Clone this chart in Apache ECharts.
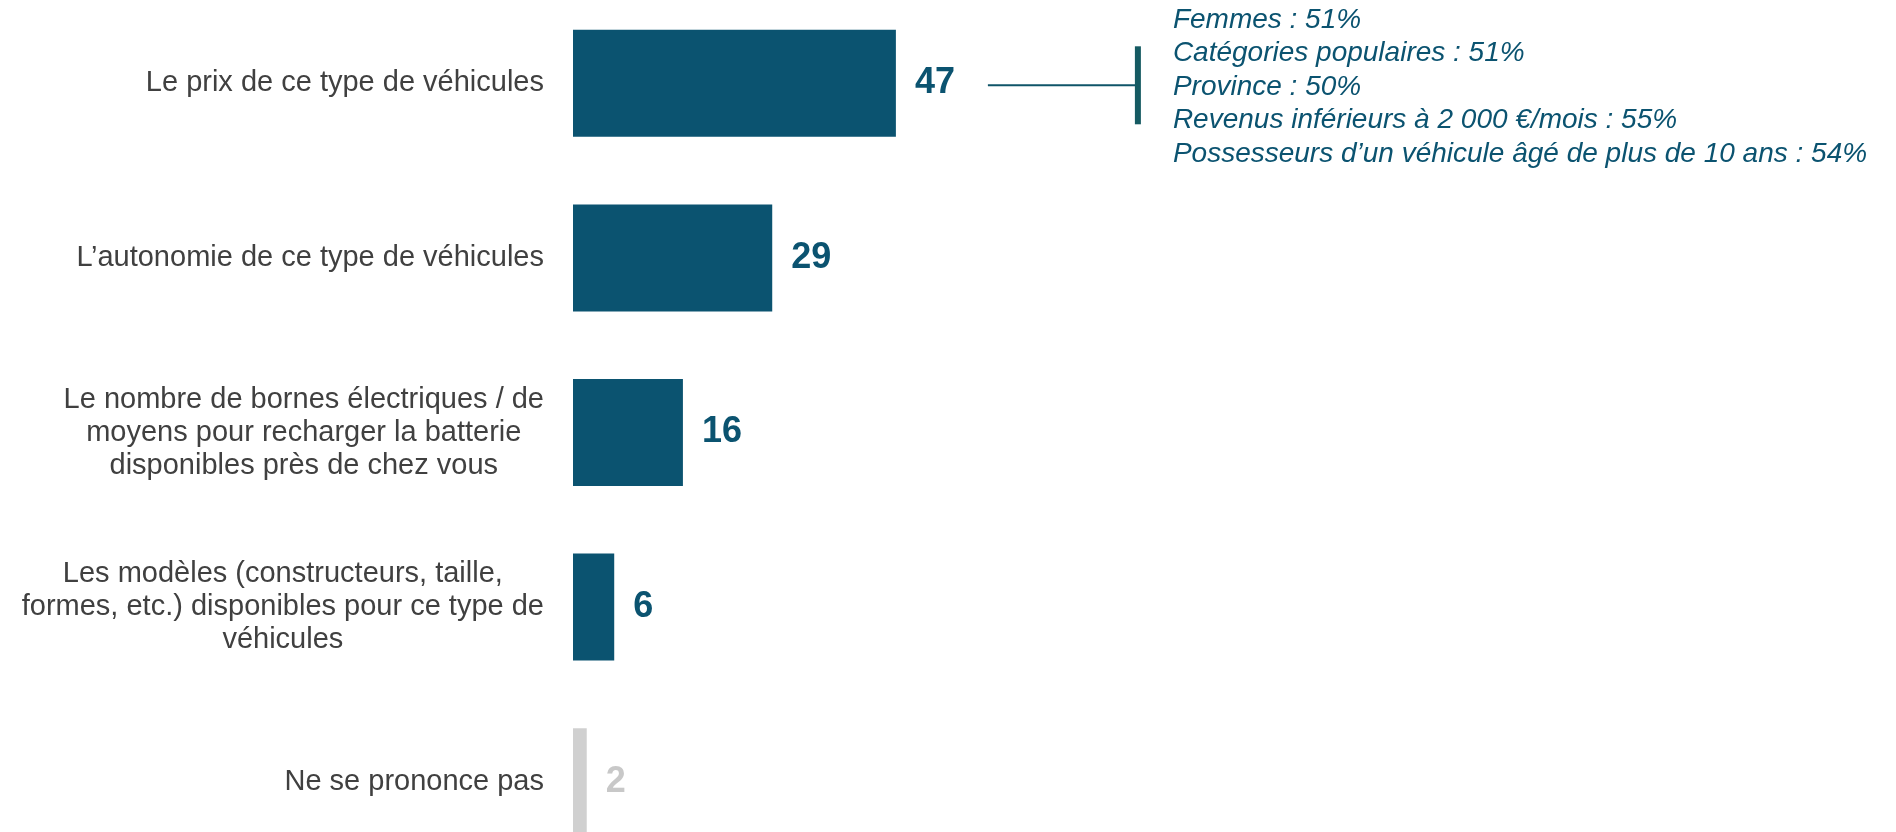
<!DOCTYPE html>
<html><head><meta charset="utf-8">
<script src="https://cdn.jsdelivr.net/npm/echarts@6/dist/echarts.min.js"></script>
<style>html,body{margin:0;padding:0;background:#fff}#c{width:1896px;height:832px}</style>
</head><body><div id="c"></div>
<script>
const categories = [
  "Le prix de ce type de véhicules",
  "L’autonomie de ce type de véhicules",
  "Le nombre de bornes électriques / de\nmoyens pour recharger la batterie\ndisponibles près de chez vous",
  "Les modèles (constructeurs, taille,\nformes, etc.) disponibles pour ce type de\nvéhicules",
  "Ne se prononce pas"
];
const values = [47, 29, 16, 6, 2];
const annotationLines = [
  "Femmes : 51%",
  "Catégories populaires : 51%",
  "Province : 50%",
  "Revenus inférieurs à 2 000 €/mois : 55%",
  "Possesseurs d’un véhicule âgé de plus de 10 ans : 54%"
];

const FONT = "'Liberation Sans', Arial, sans-serif";
const MAIN = '#0b5370';
const GRAY = '#d0d0d0';
const chart = echarts.init(document.getElementById('c'), null, {renderer: 'canvas'});

const option = {
  animation: false,
  backgroundColor: '#ffffff',
  grid: {left: 573, width: 687, top: -4, height: 873, containLabel: false, outerBoundsMode: 'none'},
  xAxis: {type: 'value', min: 0, max: 100, show: false},
  yAxis: {
    type: 'category', inverse: true, data: categories,
    axisLine: {show: false}, axisTick: {show: false}, splitLine: {show: false},
    axisLabel: {
      margin: 29, align: 'right', verticalAlign: 'middle',
      formatter: v => v.split('\n').map(l => '{c|' + l + '}').join('\n'),
      rich: {c: {align: 'center', fontSize: 29, lineHeight: 33, color: '#404040', fontFamily: FONT}}
    }
  },
  series: [{
    type: 'bar', barWidth: 107,
    data: values.map((v, i) => ({
      value: v,
      itemStyle: {color: i === values.length - 1 ? GRAY : MAIN},
      label: {color: i === values.length - 1 ? '#c8c8c8' : MAIN}
    })),
    label: {show: true, position: 'right', distance: 19, fontSize: 36, fontWeight: 'bold', fontFamily: FONT}
  }]
};
chart.setOption(option);

const yc = chart.convertToPixel({yAxisIndex: 0}, 0);
const xEnd = chart.convertToPixel({xAxisIndex: 0}, values[0]);
chart.setOption({
  graphic: [
    {type: 'line', shape: {x1: xEnd + 92, y1: yc + 2, x2: xEnd + 242, y2: yc + 2}, style: {stroke: '#0f5568', lineWidth: 2}},
    {type: 'rect', shape: {x: xEnd + 239, y: yc - 37, width: 6, height: 78}, style: {fill: '#155a62'}},
    {type: 'text', x: xEnd + 277, y: 3, style: {
      text: annotationLines.join('\n'), font: 'italic 28px ' + FONT, fill: MAIN,
      lineHeight: 33.6, verticalAlign: 'top', align: 'left'
    }}
  ]
});
</script>
</body></html>
